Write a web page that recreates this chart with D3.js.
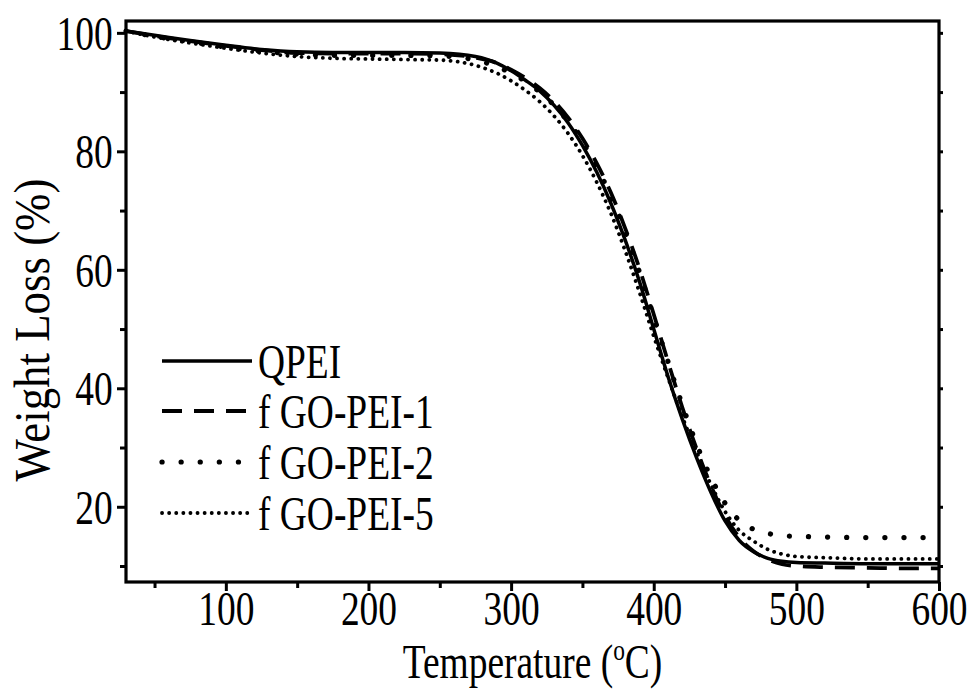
<!DOCTYPE html>
<html>
<head>
<meta charset="utf-8">
<script src="https://cdn.jsdelivr.net/npm/d3@7"></script>
<style>
  body { margin: 0; background: #fff; }
  svg text { font-family: "Liberation Serif", "Times New Roman", serif; fill: #000; }
</style>
</head>
<body>
<svg id="chart" width="975" height="690"></svg>
<script>
// temperature grid (degC)
var temps = [30, 50, 75, 100, 125, 150, 175, 200, 225, 250, 275, 290, 300, 310, 320, 330, 340, 350, 360,
  370, 380, 390, 400, 410, 420, 430, 440, 450, 460, 470, 480, 490, 500, 520, 550, 575, 600];

var qpei = [100.3, 99.6, 98.7, 97.9, 97.2, 96.8, 96.7, 96.7, 96.7, 96.6, 96.0, 94.9, 93.6, 92.0, 90.2, 87.8, 84.8, 81.0, 76.5,
  71.2, 65.0, 58.0, 50.0, 42.0, 34.8, 28.3, 22.5, 17.6, 14.3, 12.4, 11.3, 10.8, 10.6, 10.5, 10.4, 10.4, 10.4];
var fgo1 = [100.3, 99.5, 98.6, 97.8, 97.1, 96.6, 96.5, 96.5, 96.5, 96.4, 95.8, 94.9, 93.8, 92.4, 90.7, 88.5, 85.7, 82.2, 78.0,
  73.0, 67.0, 60.2, 52.5, 44.5, 36.8, 29.8, 23.6, 18.5, 14.8, 12.5, 11.1, 10.3, 10.0, 9.8, 9.7, 9.6, 9.6];
var fgo2 = [100.3, 99.4, 98.5, 97.6, 96.9, 96.4, 96.2, 96.2, 96.2, 96.1, 95.4, 94.3, 93.2, 91.8, 90.0, 87.8, 85.0, 81.6, 77.4,
  72.4, 66.5, 59.6, 52.0, 44.5, 37.2, 30.6, 25.0, 20.6, 17.7, 16.2, 15.5, 15.1, 15.0, 14.9, 14.8, 14.8, 14.8];
var fgo5 = [100.3, 99.3, 98.3, 97.4, 96.6, 96.0, 95.7, 95.6, 95.5, 95.4, 94.5, 93.2, 91.9, 90.3, 88.4, 86.0, 83.0, 79.3, 74.8,
  69.5, 63.2, 56.2, 48.8, 41.8, 35.2, 29.3, 23.8, 19.2, 16.0, 14.2, 12.8, 12.0, 11.6, 11.4, 11.2, 11.2, 11.2];

var seriesNames = ['QPEI', 'f GO-PEI-1', 'f GO-PEI-2', 'f GO-PEI-5'];
var xTicks = [100, 200, 300, 400, 500, 600];
var yTicks = [20, 40, 60, 80, 100];

var svg = d3.select('#chart');
var margin = {top: 21, right: 36, bottom: 108, left: 126};
var width = 975 - margin.left - margin.right;
var height = 690 - margin.top - margin.bottom;
var squeeze = 0.78;

var x = d3.scaleLinear().domain([30, 600]).range([0, width]);
var y = d3.scaleLinear().domain([7.3, 102]).range([height, 0]);

var g = svg.append('g').attr('transform', 'translate(' + margin.left + ',' + margin.top + ')');

var styles = [
  {dash: null, w: 3.5, cap: 'butt'},
  {dash: '20 12', w: 3.8, cap: 'butt'},
  {dash: '0.1 19', w: 5.2, cap: 'round'},
  {dash: '0.1 7', w: 3.8, cap: 'round'}
];
var allSeries = [qpei, fgo1, fgo2, fgo5];

var line = d3.line()
  .x(function(d, i) { return x(temps[i]); })
  .y(function(d) { return y(d); })
  .curve(d3.curveMonotoneX);

allSeries.forEach(function(vals, k) {
  g.append('path')
    .datum(vals)
    .attr('d', line)
    .attr('fill', 'none')
    .attr('stroke', '#000')
    .attr('stroke-width', styles[k].w)
    .attr('stroke-linecap', styles[k].cap)
    .attr('stroke-dasharray', styles[k].dash);
});

// minor ticks
var xMinor = d3.range(50, 600, 100);
var yMinor = d3.range(10, 100, 20);

function styleAxis(sel) {
  sel.select('.domain').remove();
  sel.selectAll('line').attr('stroke', '#000').attr('stroke-width', 3);
}

var xAxis = g.append('g').attr('transform', 'translate(0,' + height + ')')
  .call(d3.axisBottom(x).tickValues(xTicks).tickSize(9).tickPadding(34).tickFormat(d3.format('d')));
styleAxis(xAxis);
xAxis.selectAll('text').attr('font-size', 48).attr('dy', 0)
  .attr('transform', 'scale(' + squeeze + ',1)');

g.append('g').attr('transform', 'translate(0,' + height + ')')
  .call(d3.axisBottom(x).tickValues(xMinor).tickSize(6).tickFormat(''))
  .call(styleAxis);

var yAxis = g.append('g')
  .call(d3.axisLeft(y).tickValues(yTicks).tickSize(9).tickPadding(8).tickFormat(d3.format('d')));
styleAxis(yAxis);
yAxis.selectAll('text').attr('font-size', 48).attr('dy', '0.34em')
  .attr('transform', 'scale(' + squeeze + ',1)');

g.append('g')
  .call(d3.axisLeft(y).tickValues(yMinor).tickSize(6).tickFormat(''))
  .call(styleAxis);

// right side small ticks
g.append('g').attr('transform', 'translate(' + width + ',0)')
  .call(d3.axisRight(y).tickValues(yTicks.concat(yMinor)).tickSize(4).tickFormat(''))
  .call(styleAxis);

// frame
g.append('rect')
  .attr('width', width).attr('height', height)
  .attr('fill', 'none').attr('stroke', '#000').attr('stroke-width', 3.2);

// axis titles
var xt = svg.append('text')
  .attr('transform', 'translate(' + (margin.left + width / 2) + ',678) scale(0.78,1)')
  .attr('text-anchor', 'middle')
  .attr('font-size', 48);
xt.append('tspan').text('Temperature (');
xt.append('tspan').attr('font-size', 30).attr('dy', -18).text('o');
xt.append('tspan').attr('dy', 18).text('C)');

svg.append('text')
  .attr('transform', 'translate(49,330) rotate(-90) scale(0.88,1)')
  .attr('text-anchor', 'middle')
  .attr('font-size', 51)
  .text('Weight Loss (%)');

// legend
var legRows = [361, 411, 462, 513];
var legend = svg.append('g');
seriesNames.forEach(function(name, k) {
  legend.append('line')
    .attr('x1', 162).attr('x2', 252)
    .attr('y1', legRows[k]).attr('y2', legRows[k])
    .attr('stroke', '#000')
    .attr('stroke-width', styles[k].w)
    .attr('stroke-linecap', styles[k].cap)
    .attr('stroke-dasharray', styles[k].dash);
  legend.append('text')
    .attr('transform', 'translate(258,' + (legRows[k] + 17) + ') scale(' + squeeze + ',1)')
    .attr('font-size', 48)
    .text(name);
});
</script>
</body>
</html>
